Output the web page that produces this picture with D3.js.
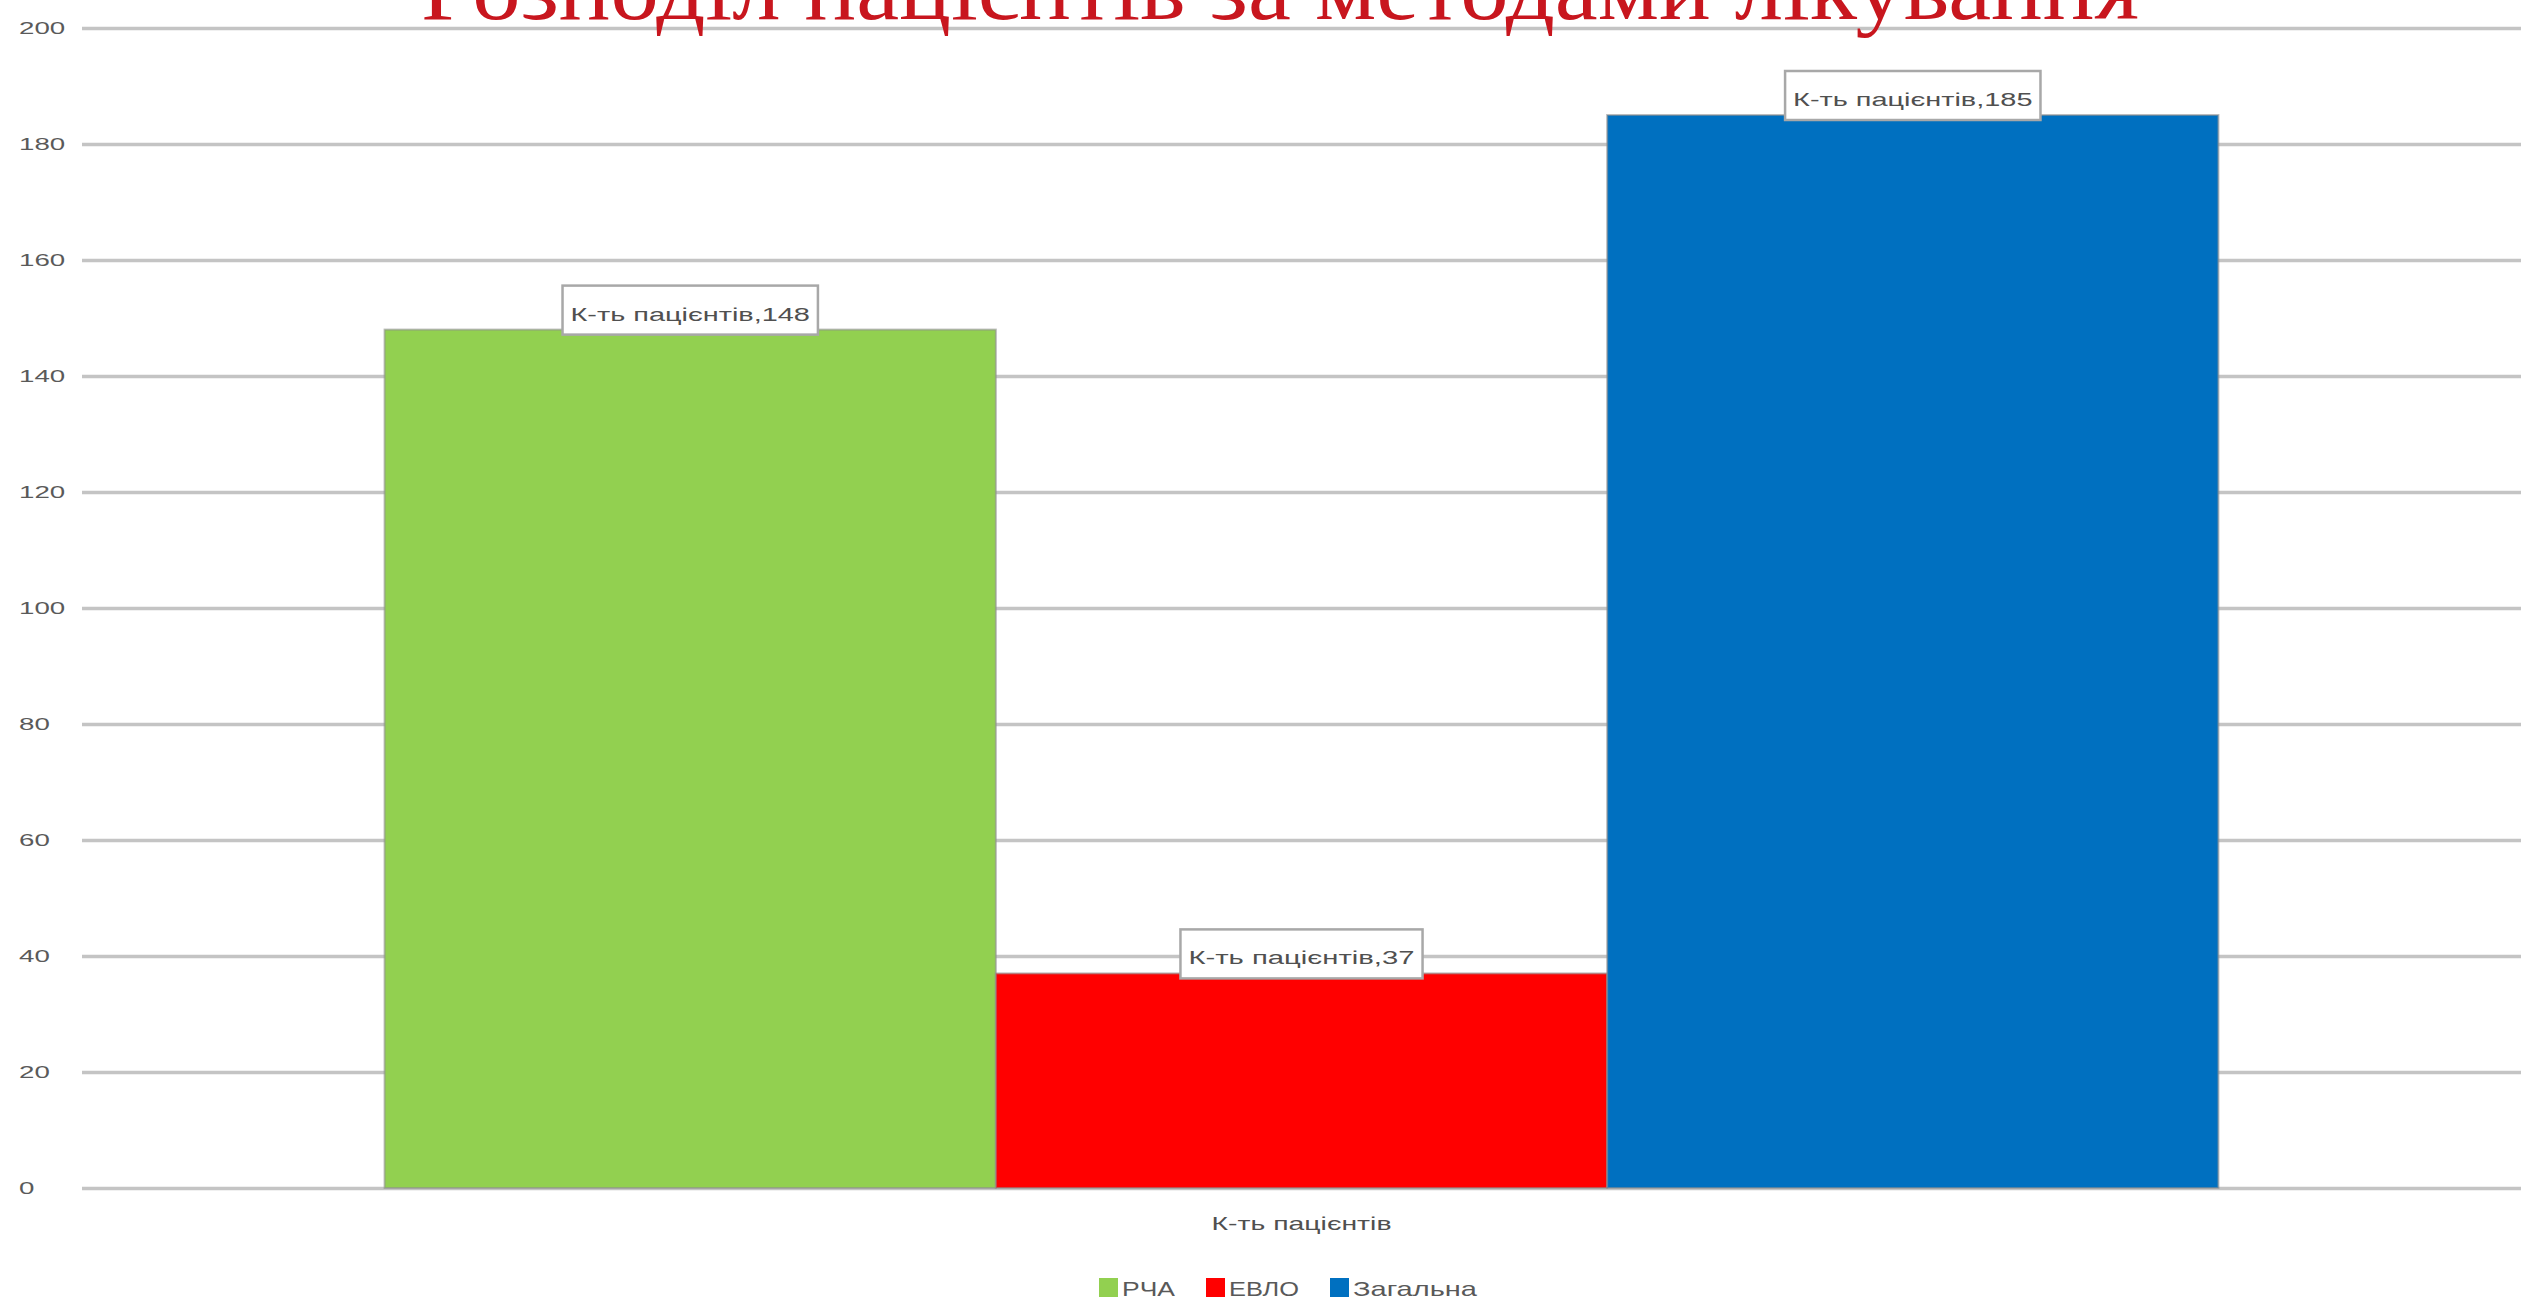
<!DOCTYPE html>
<html>
<head>
<meta charset="utf-8">
<script src="https://cdn.jsdelivr.net/npm/d3@7"></script>
<style>
  html, body { margin: 0; padding: 0; background: #ffffff; }
  svg { display: block; }
</style>
</head>
<body>
<script>
// Patient distribution by treatment method
const title = "Розподіл пацієнтів за методами лікування";
const category = "К-ть пацієнтів";
const series = ["РЧА", "ЕВЛО", "Загальна"];
const values = [148, 37, 185];
const colors = ["#92D050", "#FF0000", "#0070C0"];
const yTicks = [0, 20, 40, 60, 80, 100, 120, 140, 160, 180, 200];

const W = 2521, H = 1301;
const plot = { left: 82, right: 2521, top: 28, bottom: 1188 };

const svg = d3.select("body").append("svg")
  .attr("width", W).attr("height", H)
  .attr("viewBox", `0 0 ${W} ${H}`);

const y = d3.scaleLinear().domain([0, 200]).range([plot.bottom, plot.top]);
const x0 = d3.scaleBand().domain([category]).range([plot.left, plot.right]).paddingOuter(0.165);
const x1 = d3.scaleBand().domain(series).range([0, x0.bandwidth()]);

// wide, horizontally stretched label text
const perChar = 13.3;

// gridlines
const yAxis = d3.axisLeft(y).tickValues(yTicks)
  .tickSize(-(plot.right - plot.left)).tickFormat("");
const gAxis = svg.append("g")
  .attr("transform", `translate(${plot.left},0)`)
  .call(yAxis);
gAxis.select(".domain").remove();
gAxis.selectAll(".tick line")
  .attr("stroke", "#c4c4c4").attr("stroke-width", 3.5);

// tick labels, left aligned
svg.append("g").selectAll("text")
  .data(yTicks)
  .join("text")
  .attr("x", 19)
  .attr("y", d => y(d) + 6)
  .attr("font-family", "'Liberation Sans', Arial, sans-serif")
  .attr("font-size", 17)
  .attr("fill", "#5a5a5a")
  .attr("textLength", d => String(d).length * 15.4)
  .attr("lengthAdjust", "spacingAndGlyphs")
  .text(d => d);

// bars
const g = svg.append("g").attr("transform", `translate(${x0(category)},0)`);
g.selectAll("rect")
  .data(series.map((s, i) => ({ s, v: values[i], c: colors[i] })))
  .join("rect")
  .attr("x", d => x1(d.s))
  .attr("y", d => y(d.v))
  .attr("width", x1.bandwidth())
  .attr("height", d => y(0) - y(d.v))
  .attr("fill", d => d.c)
  .attr("stroke", "#8f8f8f")
  .attr("stroke-opacity", 0.6)
  .attr("stroke-width", 2);

// data labels
const labels = g.selectAll("g.lbl")
  .data(series.map((s, i) => ({ s, v: values[i], t: `${category},${values[i]}` })))
  .join("g").attr("class", "lbl");
labels.append("rect")
  .attr("x", d => x1(d.s) + x1.bandwidth() / 2 - (d.t.length * perChar + 16) / 2)
  .attr("y", d => y(d.v) - 44)
  .attr("width", d => d.t.length * perChar + 16)
  .attr("height", 49)
  .attr("fill", "#ffffff")
  .attr("stroke", "#a8a8a8")
  .attr("stroke-width", 2.5);
labels.append("text")
  .attr("x", d => x1(d.s) + x1.bandwidth() / 2)
  .attr("y", d => y(d.v) - 9)
  .attr("text-anchor", "middle")
  .attr("font-family", "'Liberation Sans', Arial, sans-serif")
  .attr("font-size", 18)
  .attr("fill", "#505050")
  .attr("textLength", d => d.t.length * perChar)
  .attr("lengthAdjust", "spacingAndGlyphs")
  .text(d => d.t);

// category label
svg.append("text")
  .attr("x", x0(category) + x0.bandwidth() / 2)
  .attr("y", 1230)
  .attr("text-anchor", "middle")
  .attr("font-family", "'Liberation Sans', Arial, sans-serif")
  .attr("font-size", 19)
  .attr("fill", "#505050")
  .attr("textLength", 180)
  .attr("lengthAdjust", "spacingAndGlyphs")
  .text(category);

// legend
const legendWidths = [53, 70, 124];
let lx = 1099;
series.forEach((s, i) => {
  svg.append("rect")
    .attr("x", lx).attr("y", 1278)
    .attr("width", 19).attr("height", 19)
    .attr("fill", colors[i]);
  svg.append("text")
    .attr("x", lx + 23).attr("y", 1296)
    .attr("font-family", "'Liberation Sans', Arial, sans-serif")
    .attr("font-size", 21)
    .attr("fill", "#595959")
    .attr("textLength", legendWidths[i])
    .attr("lengthAdjust", "spacingAndGlyphs")
    .text(s);
  lx += 23 + legendWidths[i] + 31;
});

// title, partly above the top edge
svg.append("text")
  .attr("x", 1280)
  .attr("y", 19)
  .attr("text-anchor", "middle")
  .attr("font-family", "'Liberation Serif', 'Times New Roman', serif")
  .attr("font-size", 88)
  .attr("fill", "#C8161E")
  .attr("textLength", 1718)
  .attr("lengthAdjust", "spacingAndGlyphs")
  .text(title);
</script>
</body>
</html>
